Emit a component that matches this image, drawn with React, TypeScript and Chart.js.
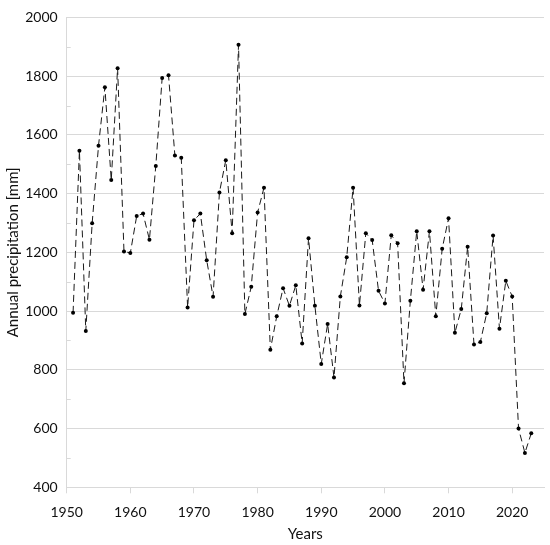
import React, { useEffect, useRef } from "react";
import { Chart, registerables } from "chart.js";

Chart.register(...registerables);

const years: number[] = [
  1951, 1952, 1953, 1954, 1955, 1956, 1957, 1958, 1959, 1960,
  1961, 1962, 1963, 1964, 1965, 1966, 1967, 1968, 1969, 1970,
  1971, 1972, 1973, 1974, 1975, 1976, 1977, 1978, 1979, 1980,
  1981, 1982, 1983, 1984, 1985, 1986, 1987, 1988, 1989, 1990,
  1991, 1992, 1993, 1994, 1995, 1996, 1997, 1998, 1999, 2000,
  2001, 2002, 2003, 2004, 2005, 2006, 2007, 2008, 2009, 2010,
  2011, 2012, 2013, 2014, 2015, 2016, 2017, 2018, 2019, 2020,
  2021, 2022, 2023,
];

const precipitation: number[] = [
  994, 1546, 932, 1299, 1563, 1762, 1446, 1827, 1203, 1198,
  1324, 1332, 1243, 1494, 1794, 1803, 1530, 1522, 1012, 1309,
  1332, 1173, 1049, 1404, 1514, 1265, 1907, 990, 1083, 1336,
  1420, 868, 982, 1078, 1018, 1088, 890, 1248, 1018, 820,
  956, 774, 1050, 1183, 1420, 1019, 1265, 1242, 1069, 1026,
  1258, 1231, 754, 1035, 1272, 1073, 1272, 982, 1212, 1316,
  926, 1007, 1219, 886, 895, 993, 1257, 940, 1103, 1050,
  600, 517, 584,
];

const xMin = 1950;
const xMax = 2025;
const xTickValues: number[] = [1950, 1960, 1970, 1980, 1990, 2000, 2010, 2020];
const yMin = 400;
const yMax = 2000;
const yStep = 200;
const yMinorValues: number[] = [500, 700, 900, 1100, 1300, 1500, 1700, 1900];

const xTitle = "Years";
const yTitle = "Annual precipitation [mm]";

const FONT = "Lato";

const minorTickPlugin = {
  id: "minorTicks",
  afterDraw(chart: any) {
    const y = chart.scales.y;
    const x = chart.scales.x;
    const ctx = chart.ctx;
    ctx.save();
    ctx.strokeStyle = "#d9d9d9";
    ctx.lineWidth = 1;
    for (const v of yMinorValues) {
      const py = Math.round(y.getPixelForValue(v)) + 0.5;
      ctx.beginPath();
      ctx.moveTo(x.left, py);
      ctx.lineTo(x.left + 4, py);
      ctx.stroke();
    }
    ctx.restore();
  },
};

export default function App() {
  const ref = useRef<HTMLCanvasElement | null>(null);

  useEffect(() => {
    document.body.style.margin = "0";
    const canvas = ref.current;
    if (!canvas) return;
    const chart = new Chart(canvas, {
      type: "line",
      data: {
        datasets: [
          {
            data: years.map((yr, i) => ({ x: yr, y: precipitation[i] })),
            borderColor: "#1a1a1a",
            borderWidth: 1,
            borderDash: [7, 4],
            pointRadius: 2,
            pointBackgroundColor: "#000",
            pointBorderColor: "#000",
            pointBorderWidth: 0,
            tension: 0,
            fill: false,
          },
        ],
      },
      options: {
        animation: false,
        responsive: false,
        devicePixelRatio: 1,
        layout: { padding: { top: 10, right: 6, bottom: 0, left: 0 } },
        plugins: {
          legend: { display: false },
          tooltip: { enabled: false },
        },
        scales: {
          x: {
            type: "linear",
            min: xMin,
            max: xMax,
            afterBuildTicks: (scale: any) => {
              scale.ticks = xTickValues.map((v) => ({ value: v }));
            },
            afterFit: (scale: any) => {
              scale.height = 57.7;
            },
            ticks: {
              color: "#111",
              font: { family: FONT, size: 14 },
              padding: 11,
              maxRotation: 0,
              autoSkip: false,
              callback: (v: any) => String(v),
            },
            grid: {
              drawOnChartArea: false,
              drawTicks: true,
              tickLength: 6,
              color: "#d9d9d9",
            },
            border: { display: true, color: "#d9d9d9" },
            title: {
              display: true,
              text: xTitle,
              color: "#111",
              font: { family: FONT, size: 15 },
              padding: { top: 0, bottom: 2 },
            },
          },
          y: {
            type: "linear",
            min: yMin,
            max: yMax,
            afterFit: (scale: any) => {
              scale.width = 66.7;
            },
            ticks: {
              stepSize: yStep,
              color: "#111",
              font: { family: FONT, size: 14 },
              padding: 9,
              callback: (v: any) => String(v),
            },
            grid: {
              color: "#d9d9d9",
              drawTicks: false,
            },
            border: { display: true, color: "#d9d9d9" },
            title: {
              display: true,
              text: yTitle,
              color: "#111",
              font: { family: FONT, size: 15 },
              padding: { top: 4, bottom: 0 },
            },
          },
        },
      },
      plugins: [minorTickPlugin],
    });
    return () => chart.destroy();
  }, []);

  return (
    <div style={{ width: 550, height: 545 }}>
      <canvas ref={ref} width={550} height={545} style={{ display: "block" }} />
    </div>
  );
}
